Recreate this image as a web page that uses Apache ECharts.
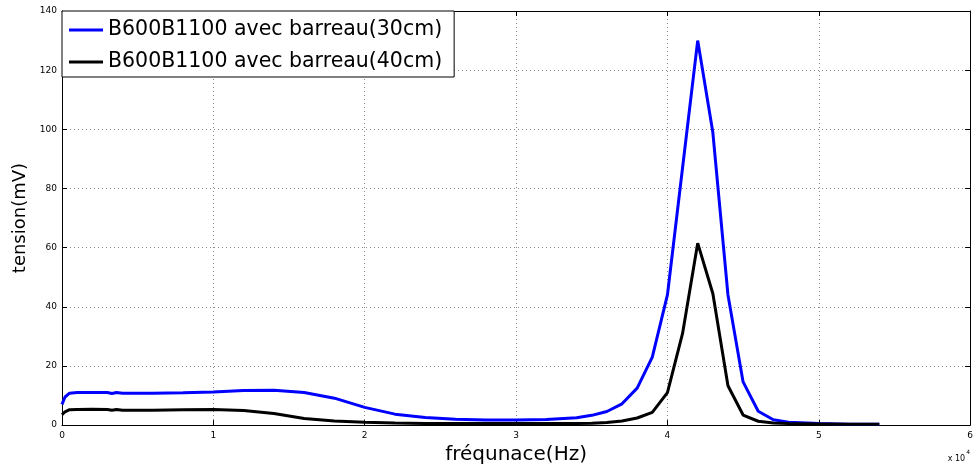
<!DOCTYPE html>
<html>
<head>
<meta charset="utf-8">
<script src="https://cdn.jsdelivr.net/npm/echarts@6/dist/echarts.min.js"></script>
<style>html,body{margin:0;padding:0;background:#fff;}#chart{width:976px;height:470px;}</style>
</head>
<body>
<div id="chart"></div>
<script>
// frequency in Hz
var freqHz = [0, 200, 500, 1000, 2000, 3000, 3300, 3600, 4000, 5000, 6000, 8000, 10000, 12000, 14000, 16000, 18000, 20000, 22000, 24000, 26000, 28000, 30000, 32000, 34000, 35000, 36000, 37000, 38000, 39000, 40000, 41000, 42000, 43000, 44000, 45000, 46000, 47000, 48000, 50000, 52000, 54000];
var tension30cm = [7, 9.5, 10.8, 11, 11, 11, 10.7, 11, 10.8, 10.8, 10.8, 10.9, 11.2, 11.7, 11.8, 11, 9.1, 6, 3.7, 2.6, 2.0, 1.7, 1.7, 1.9, 2.5, 3.3, 4.6, 7.2, 12.5, 23, 44, 87, 130, 99, 44, 14.6, 4.7, 1.8, 1.0, 0.5, 0.3, 0.3];
var tension40cm = [3.5, 4.5, 5.2, 5.3, 5.4, 5.3, 5.0, 5.3, 5.0, 5.0, 5.0, 5.2, 5.3, 4.9, 3.9, 2.2, 1.4, 1.0, 0.7, 0.5, 0.5, 0.5, 0.5, 0.5, 0.5, 0.6, 0.9, 1.4, 2.4, 4.3, 11, 31, 61.5, 44.5, 13.3, 3.4, 1.3, 0.7, 0.5, 0.4, 0.3, 0.3];
var seriesNames = ['B600B1100 avec barreau(30cm)', 'B600B1100 avec barreau(40cm)'];
var xTickLabels = ['0', '1', '2', '3', '4', '5', '6'];
var yTickLabels = ['0', '20', '40', '60', '80', '100', '120', '140'];

function pairs(xs, ys) { return xs.map(function (x, i) { return [x, ys[i]]; }); }

var FONT = 'DejaVu Sans';
var chart = echarts.init(document.getElementById('chart'), null, {renderer: 'canvas'});
var gridLine = {show: true, lineStyle: {color: '#8a8a8a', type: [1, 3], width: 1}};
var axisLineStyle = {show: true, onZero: false, lineStyle: {color: '#000', width: 1}};
var tickStyle = {show: true, inside: true, length: 5, lineStyle: {color: '#000', width: 1}};

chart.setOption({
  animation: false,
  backgroundColor: '#fff',
  grid: {left: 62, right: 3, top: 11, bottom: 44, containLabel: false},
  legend: {
    left: 62, top: 11, orient: 'vertical',
    backgroundColor: '#fff', borderColor: '#000', borderWidth: 1, borderRadius: 0,
    padding: [8, 12, 4, 7], itemGap: 10, itemWidth: 34, itemHeight: 3,
    icon: 'rect',
    textStyle: {fontFamily: FONT, fontSize: 20.5, color: '#000', lineHeight: 22},
    data: seriesNames
  },
  xAxis: [{
    type: 'value', min: 0, max: 60000, interval: 10000,
    name: 'fréqunace(Hz)', nameLocation: 'middle', nameGap: 19,
    nameTextStyle: {fontFamily: FONT, fontSize: 20, color: '#000'},
    axisLine: axisLineStyle, axisTick: tickStyle, splitLine: gridLine,
    axisLabel: {fontFamily: FONT, fontSize: 9, color: '#000', margin: 6,
      formatter: function (v) { return xTickLabels[Math.round(v / 10000)]; }}
  }, {
    type: 'value', min: 0, max: 60000, interval: 10000, position: 'top',
    axisLine: axisLineStyle, axisTick: tickStyle, splitLine: {show: false}, axisLabel: {show: false}
  }],
  yAxis: [{
    type: 'value', min: 0, max: 140, interval: 20,
    name: 'tension(mV)', nameLocation: 'middle', nameGap: 33, nameRotate: 90,
    nameTextStyle: {fontFamily: FONT, fontSize: 18, color: '#000'},
    axisLine: axisLineStyle, axisTick: tickStyle, splitLine: gridLine,
    axisLabel: {fontFamily: FONT, fontSize: 9, color: '#000', margin: 5,
      formatter: function (v) { return yTickLabels[Math.round(v / 20)]; }}
  }, {
    type: 'value', min: 0, max: 140, interval: 20, position: 'right',
    axisLine: axisLineStyle, axisTick: tickStyle, splitLine: {show: false}, axisLabel: {show: false}
  }],
  graphic: [{
    type: 'text', right: 6, top: 449,
    style: {
      text: '{a|x 10}{b|4}', fill: '#000',
      rich: {
        a: {fontFamily: FONT, fontSize: 8, fill: '#000', verticalAlign: 'bottom', lineHeight: 14},
        b: {fontFamily: FONT, fontSize: 6, fill: '#000', verticalAlign: 'top', lineHeight: 14, padding: [0, 0, 6, 1]}
      }
    }
  }],
  series: [{
    name: seriesNames[0], type: 'line', data: pairs(freqHz, tension30cm),
    showSymbol: false, symbol: 'none', color: '#0000ff',
    lineStyle: {color: '#0000ff', width: 3}, itemStyle: {color: '#0000ff'}, z: 3
  }, {
    name: seriesNames[1], type: 'line', data: pairs(freqHz, tension40cm),
    showSymbol: false, symbol: 'none', color: '#000',
    lineStyle: {color: '#000', width: 3}, itemStyle: {color: '#000'}, z: 4
  }]
});
</script>
</body>
</html>
